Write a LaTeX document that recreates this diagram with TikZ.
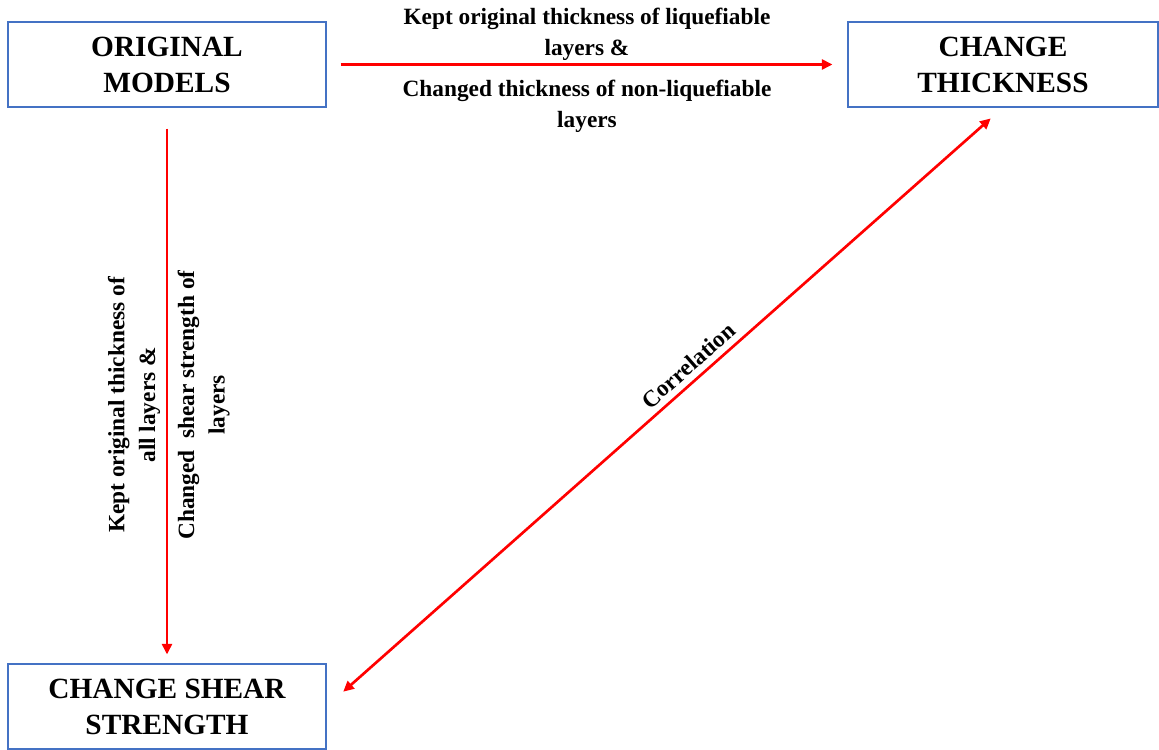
\documentclass[tikz,border=0pt]{standalone}
\usepackage{fontspec}
\setmainfont{Liberation Serif}
\usetikzlibrary{arrows.meta}
\definecolor{boxblue}{HTML}{4472C4}
\tikzset{
  modelbox/.style={draw=boxblue, line width=0.8pt, minimum width=238.5pt,
    minimum height=63.75pt, align=center,
    font=\fontsize{22}{27}\selectfont\bfseries},
  link/.style={red, line width=2pt},
  linklabel/.style={align=center, font=\fontsize{17.5}{23}\selectfont\bfseries}
}
\begin{document}
\begin{tikzpicture}[x=0.75pt,y=0.75pt,>={Triangle[length=8pt,width=7.5pt]}]
      \useasboundingbox (0,0) rectangle (1159,749);
      \draw
        (167,684.5) node[modelbox] (orig){ORIGINAL\\MODELS}
        (1003,684.5) node[modelbox, minimum width=232.5pt] (thick){CHANGE\\THICKNESS}
        (167,42.5) node[modelbox] (shear){CHANGE SHEAR\\STRENGTH};
      \begin{scope}[link]
        \draw[->, shorten <=10.5pt, shorten >=11.25pt] (orig) to
          node[linklabel, black, yshift=22.5pt]{Kept original thickness of liquefiable\\layers \&}
          node[linklabel, black, yshift=-31.5pt]{Changed thickness of non-liquefiable\\layers}
          (thick);
        \draw[->, shorten <=15.75pt, shorten >=6.75pt] (orig) to
          node[linklabel, black, xshift=-24.75pt, yshift=-14.6pt, rotate=90]{Kept original thickness of\\all layers \&}
          node[linklabel, black, xshift=27.5pt, yshift=-14.6pt, rotate=90]{Changed\ \ shear strength of\\layers}
          (shear);
        \draw[<->, shorten <=16.7pt, shorten >=12.3pt] (shear.east) to
          node[linklabel, black, pos=0.55, sloped, above=1pt]{Correlation}
          (thick.south);
      \end{scope}
\end{tikzpicture}
\end{document}
